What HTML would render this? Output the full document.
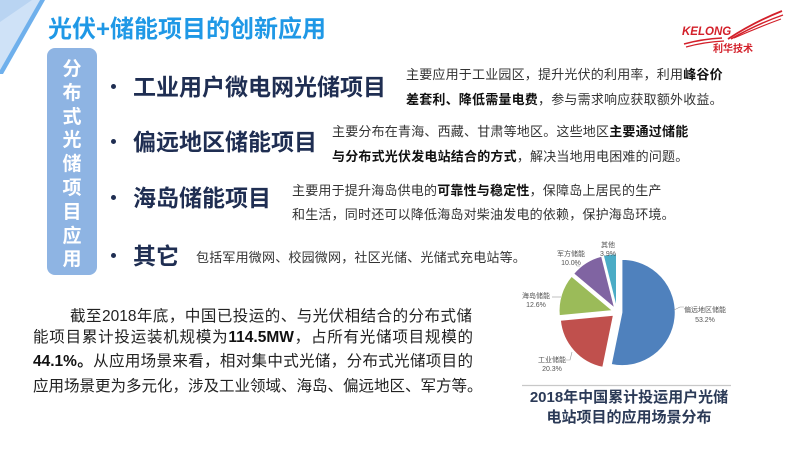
<!DOCTYPE html>
<html>
<head>
<meta charset="utf-8">
<style>
html,body{margin:0;padding:0;}
body{width:800px;height:450px;position:relative;overflow:hidden;background:#fff;font-family:"Liberation Sans","Noto Sans CJK SC",sans-serif;}
.a{position:absolute;white-space:nowrap;}
.title{left:48px;top:16px;font-size:24px;line-height:28px;font-weight:bold;color:#1f98e6;width:274px;text-align:justify;text-align-last:justify;}
.vbox{position:absolute;left:47px;top:48px;width:50px;height:227px;background:#8eb4e3;border-radius:8px;}
.vtext{position:absolute;left:47px;top:58px;width:50px;text-align:center;color:#fff;font-weight:bold;font-size:19px;line-height:23.8px;}
.dot{position:absolute;width:5px;height:5px;border-radius:50%;background:#1f2e52;left:111px;}
.h{font-size:23px;font-weight:bold;color:#1f2e52;line-height:26px;left:133px;}
.d{font-size:13px;color:#333;line-height:16px;letter-spacing:0.2px;}
.d b{color:#111;}
.p{font-size:15.5px;color:#222;line-height:20px;text-align:justify;text-align-last:justify;}
.p b{color:#111;}
.cap{font-size:15px;font-weight:bold;color:#2b3a57;line-height:18px;text-align:center;}
</style>
</head>
<body>
<!-- top-left decoration -->
<svg class="a" style="left:0;top:0" width="60" height="90" viewBox="0 0 60 90">
  <polygon points="0,0 40,0 0,70" fill="#cfe2f7"/>
  <polygon points="0,0 32,0 0,22" fill="#b9d4f2"/>
  <polygon points="40,0 45,0 3,74 0,74 0,70" fill="#6fb0ec"/>
</svg>

<div class="a title">光伏+储能项目的创新应用</div>

<!-- logo -->
<svg class="a" style="left:670px;top:5px" width="125" height="55" viewBox="0 0 125 55">
  <text x="12" y="30" font-family="Liberation Sans, sans-serif" font-size="11.5" font-weight="bold" font-style="italic" fill="#d3202a">KELONG</text>
  <path d="M58 34 Q84 17 112 6" stroke="#d3202a" stroke-width="1.8" fill="none"/>
  <path d="M61 34 Q87 19 113 10" stroke="#d3202a" stroke-width="1.4" fill="none"/>
  <path d="M64 33 Q89 22 111 14" stroke="#d3202a" stroke-width="1.1" fill="none"/>
  <path d="M14 39 Q32 34 52 33" stroke="#d3202a" stroke-width="1.5" fill="none"/>
  <path d="M16 42 Q34 37 54 36" stroke="#d3202a" stroke-width="1.2" fill="none"/>
  <text x="43" y="47" font-family="Liberation Sans, Noto Sans CJK SC, sans-serif" font-size="10" font-weight="bold" fill="#d3202a">利华技术</text>
</svg>

<div class="vbox"></div>
<div class="a vtext">分<br>布<br>式<br>光<br>储<br>项<br>目<br>应<br>用</div>

<div class="dot" style="top:84px"></div>
<div class="dot" style="top:139px"></div>
<div class="dot" style="top:195px"></div>
<div class="dot" style="top:253px"></div>

<div class="a h" style="top:74px">工业用户微电网光储项目</div>
<div class="a h" style="top:129px">偏远地区储能项目</div>
<div class="a h" style="top:185px">海岛储能项目</div>
<div class="a h" style="top:243px">其它</div>

<div class="a d" style="left:406px;top:67px">主要应用于工业园区，提升光伏的利用率，利用<b>峰谷价</b></div>
<div class="a d" style="left:406px;top:92px"><b>差套利、降低需量电费</b>，参与需求响应获取额外收益。</div>

<div class="a d" style="left:332px;top:124px">主要分布在青海、西藏、甘肃等地区。这些地区<b>主要通过储能</b></div>
<div class="a d" style="left:332px;top:149px"><b>与分布式光伏发电站结合的方式</b>，解决当地用电困难的问题。</div>

<div class="a d" style="left:292px;top:183px">主要用于提升海岛供电的<b>可靠性与稳定性</b>，保障岛上居民的生产</div>
<div class="a d" style="left:292px;top:207px">和生活，同时还可以降低海岛对柴油发电的依赖，保护海岛环境。</div>

<div class="a d" style="left:196px;top:250px">包括军用微网、校园微网，社区光储、光储式充电站等。</div>

<div class="a p" style="left:70px;top:307px;width:402px">截至2018年底，中国已投运的、与光伏相结合的分布式储</div>
<div class="a p" style="left:33px;top:328px;width:440px">能项目累计投运装机规模为<b>114.5MW</b>，占所有光储项目规模的</div>
<div class="a p" style="left:33px;top:352px;width:440px"><b>44.1%。</b>从应用场景来看，相对集中式光储，分布式光储项目的</div>
<div class="a p" style="left:33px;top:377px;width:449px">应用场景更为多元化，涉及工业领域、海岛、偏远地区、军方等。</div>

<!-- pie chart -->
<svg class="a" style="left:0;top:0" width="800" height="450" viewBox="0 0 800 450">
  <g stroke="#fff" stroke-width="0.8">
    <path d="M622,312.5 L622,259.5 A53,53 0 1,1 611.4,364.4 Z" fill="#4f81bd"/>
    <path d="M613.3,315.3 L602.7,367.2 A53,53 0 0,1 560.5,320.3 Z" fill="#c0504d"/>
    <path d="M612.2,310.5 L559.4,315.5 A53,53 0 0,1 571.6,276.4 Z" fill="#9bbb59"/>
    <path d="M614.4,307.8 L573.8,273.7 A53,53 0 0,1 601.5,256.3 Z" fill="#8064a2"/>
    <path d="M616.4,307 L603.5,255.6 A53,53 0 0,1 616.4,254 Z" fill="#4bacc6"/>
  </g>
  <g stroke="#999" stroke-width="0.6" fill="none">
    <path d="M674,310 L680,307 L684,307"/>
    <path d="M572,352 L570,360 L566,360"/>
    <path d="M561,297 L556,297 L552,297"/>
    <path d="M580,266 L577,266 L574,262"/>
  </g>
  <g font-family="Liberation Sans, Noto Sans CJK SC, sans-serif" font-size="7" fill="#555" text-anchor="middle">
    <text x="705" y="312">偏远地区储能</text>
    <text x="705" y="322">53.2%</text>
    <text x="552" y="362">工业储能</text>
    <text x="552" y="371">20.3%</text>
    <text x="536" y="298">海岛储能</text>
    <text x="536" y="307">12.6%</text>
    <text x="571" y="256">军方储能</text>
    <text x="571" y="265">10.0%</text>
    <text x="608" y="247">其他</text>
    <text x="608" y="256">3.9%</text>
  </g>
  <line x1="522" y1="385.5" x2="731" y2="385.5" stroke="#c8c8c8" stroke-width="1.2"/>
</svg>

<div class="a cap" style="left:500px;top:389px;width:258px">2018年中国累计投运用户光储</div>
<div class="a cap" style="left:500px;top:409px;width:258px">电站项目的应用场景分布</div>
</body>
</html>
